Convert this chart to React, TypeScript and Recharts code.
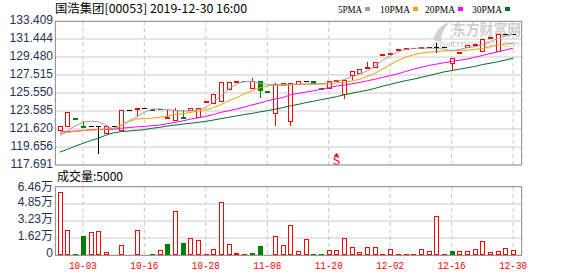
import React from 'react';
import { ComposedChart, Bar, Line, XAxis, YAxis, CartesianGrid, ReferenceDot } from 'recharts';

const dates = ['09-26','09-27','09-30','10-03','10-04','10-08','10-09','10-10','10-11','10-14','10-15','10-16','10-17','10-18','10-21','10-22','10-23','10-24','10-25','10-28','10-29','10-30','10-31','11-01','11-04','11-05','11-06','11-08','11-11','11-12','11-13','11-14','11-15','11-18','11-19','11-20','11-21','11-22','11-25','11-26','11-27','11-28','11-29','12-02','12-03','12-04','12-05','12-06','12-09','12-10','12-11','12-16','12-17','12-18','12-19','12-20','12-23','12-24','12-27','12-30'];

const opens = [121.56,122.0,122.87,121.98,121.92,121.92,121.13,121.92,121.55,123.73,123.88,123.95,123.77,123.77,122.85,122.65,122.97,123.73,122.93,124.63,124.45,124.67,126.01,126.88,126.88,126.1,126.88,125.8,123.37,126.4,122.5,126.5,126.88,126.91,126.12,126.05,126.99,125.47,127.53,127.75,128.36,128.4,129.81,129.92,130.35,130.42,130.42,130.53,130.53,130.53,130.53,128.79,130.06,130.6,130.9,130.09,131.55,130.17,131.98,131.98];
const highs = [121.95,123.44,122.87,122.5,121.92,121.92,121.92,121.92,123.73,123.73,123.95,123.95,123.77,123.77,123.73,123.95,123.73,123.95,123.95,124.63,125.47,126.77,126.77,126.88,126.88,127.15,126.88,125.8,126.6,126.66,126.62,126.88,126.88,126.91,126.12,126.88,126.99,126.99,127.99,128.18,128.95,128.97,129.81,129.92,130.35,130.42,130.42,130.53,130.53,130.97,130.53,129.33,130.06,130.82,130.9,131.44,131.69,131.98,131.98,131.98];
const lows = [121.56,121.95,122.87,121.92,121.92,119.03,121.13,121.92,121.5,123.73,123.01,123.95,123.77,123.77,122.85,122.65,122.93,123.73,122.93,124.63,124.45,124.67,126.01,126.88,126.88,126.1,125.1,125.8,122.03,126.4,122.03,126.5,126.88,126.62,126.12,126.05,126.99,124.99,127.05,127.75,128.36,128.4,129.81,129.92,130.35,130.42,130.42,130.53,130.53,129.99,130.53,128.07,130.06,130.6,130.9,130.09,131.55,130.17,131.98,131.98];
const closes = [121.92,123.44,122.87,121.92,121.92,121.92,121.92,121.92,123.73,123.73,123.95,123.95,123.77,123.77,122.95,123.73,122.93,123.95,123.95,124.63,125.47,126.77,126.77,126.88,126.88,126.85,125.83,125.8,126.56,126.6,126.62,126.88,126.88,126.62,126.12,126.88,126.99,126.99,127.99,128.18,128.4,128.97,129.81,129.92,130.35,130.42,130.42,130.53,130.53,130.53,130.53,129.33,130.06,130.82,130.9,131.44,131.69,131.98,131.98,131.98];
// volume in 万 (10k) shares
const volumes = [5.99,2.37,0.05,1.83,2.18,2.27,0.3,0,0.96,0,2.37,0,0.05,0.49,1.08,4.15,1.17,1.62,1.43,0.05,0.61,5.0,1.05,0.2,0.05,0.2,0.89,0,1.83,0.99,2.84,0.39,1.55,0.05,0.05,0.49,0.49,1.64,0.8,0.3,0.8,0.8,0.05,0.58,0.05,0.05,0.05,0.58,0.39,3.71,0.05,0.39,0.39,0.39,0.58,1.33,0.3,0.39,0.68,0.49];

const ma5 = [120.9,121.45,121.95,122.35,122.47,122.4,122.05,121.6,121.95,122.5,122.95,123.45,123.8,123.8,123.75,123.65,123.58,123.6,123.7,123.95,124.6,125.25,126.0,126.55,126.8,126.82,126.62,126.5,126.42,126.37,126.42,126.5,126.55,126.55,126.55,126.68,126.85,127.0,127.3,127.62,127.95,128.5,129.1,129.6,130.05,130.3,130.42,130.45,130.45,130.42,130.33,130.17,130.3,130.5,130.6,130.82,131.15,131.5,131.75,131.98];
const ma10 = [121.1,121.25,121.38,121.45,121.5,121.55,121.62,121.7,122.1,122.45,122.7,122.78,122.8,122.9,123.05,123.2,123.3,123.42,123.58,123.7,123.95,124.3,124.7,125.05,125.45,125.8,126.1,126.3,126.42,126.48,126.5,126.5,126.5,126.5,126.52,126.55,126.65,126.72,126.85,127.05,127.35,127.7,128.15,128.65,129.1,129.45,129.72,129.9,130.0,130.08,130.12,130.17,130.2,130.22,130.3,130.42,130.6,130.78,130.9,130.98];
const ma20 = [121.3,121.35,121.38,121.45,121.52,121.56,121.57,121.6,121.7,121.78,121.85,121.9,121.98,122.05,122.2,122.33,122.5,122.7,122.85,123.0,123.2,123.45,123.62,123.8,124.0,124.25,124.45,124.7,124.88,125.05,125.35,125.5,125.65,125.8,125.95,126.15,126.3,126.42,126.55,126.7,126.88,127.05,127.25,127.45,127.65,127.9,128.15,128.35,128.55,128.7,128.85,129.0,129.12,129.25,129.45,129.65,129.85,130.05,130.25,130.45];
const ma30 = [119.1,119.4,119.75,120.05,120.35,120.6,120.95,121.2,121.33,121.4,121.47,121.55,121.7,121.8,121.95,122.05,122.15,122.25,122.35,122.45,122.6,122.75,122.9,123.05,123.2,123.32,123.48,123.62,123.78,123.95,124.15,124.3,124.5,124.65,124.82,124.98,125.15,125.35,125.52,125.7,125.85,126.05,126.3,126.5,126.7,126.9,127.05,127.25,127.45,127.65,127.85,128.0,128.15,128.3,128.45,128.65,128.8,128.95,129.15,129.35];

const priceTicks = [117.691, 119.656, 121.620, 123.585, 125.550, 127.515, 129.480, 131.444, 133.409];
const volTicks = [0, 1.615, 3.23, 4.845, 6.46];
const volTickLabels = ['0', '1.62万', '3.23万', '4.85万', '6.46万'];
const dateTicks = ['10-03', '10-16', '10-28', '11-08', '11-20', '12-02', '12-16', '12-30'];
const signalDate = '11-21';
const signalPrice = 119.0;

const UP = '#ff0000';
const DOWN = '#008000';
const FLAT = '#000000';

const rows = dates.map((d, i) => ({
  date: d,
  open: opens[i],
  high: highs[i],
  low: lows[i],
  close: closes[i],
  prev: i > 0 ? closes[i - 1] : null,
  range: [lows[i], highs[i]],
  vol: volumes[i],
  ma5: ma5[i],
  ma10: ma10[i],
  ma20: ma20[i],
  ma30: ma30[i],
}));

function candleDir(p: any) {
  if (p.close > p.open) return 1;
  if (p.close < p.open) return -1;
  if (p.prev == null) return 0;
  return p.close > p.prev ? 1 : p.close < p.prev ? -1 : 0;
}
function volDir(p: any) {
  if (p.prev == null) return p.close >= p.open ? 1 : -1;
  return p.close >= p.prev ? 1 : -1;
}

const Candle = (props: any) => {
  const { x, y, width, height, payload } = props;
  if (x == null || y == null || !payload) return null;
  const cx = Math.round(x + width / 2);
  const { open, close, high, low } = payload;
  const span = high - low;
  const h = height || 0;
  const toY = (v: number) => (span > 0 ? y + ((high - v) / span) * h : y);
  const dir = candleDir(payload);
  const color = dir > 0 ? UP : dir < 0 ? DOWN : FLAT;
  const yh = Math.round(toY(high));
  const yl = Math.round(toY(low));
  const top = Math.round(Math.min(toY(open), toY(close)));
  const bot = Math.round(Math.max(toY(open), toY(close)));
  const els: any[] = [];
  if (yl > yh) {
    els.push(<line key="w" x1={cx + 0.5} x2={cx + 0.5} y1={yh} y2={yl + 1} stroke={color} strokeWidth={1} />);
  }
  if (close > open && bot - top >= 2) {
    els.push(<rect key="b" x={cx - 1.5} y={top + 0.5} width={4} height={bot - top} fill="#ffffff" stroke={color} strokeWidth={1} />);
  } else if (close < open && bot - top >= 2) {
    els.push(<rect key="b" x={cx - 2} y={top} width={5} height={bot - top + 1} fill={color} />);
  } else {
    const hh = dir === 0 ? 1 : 2;
    els.push(<rect key="b" x={cx - 2} y={top} width={5} height={hh} fill={color} />);
  }
  return <g>{els}</g>;
};

const VolBar = (props: any) => {
  const { x, y, width, height, payload } = props;
  if (x == null || y == null || !payload || !payload.vol) return null;
  const cx = Math.round(x + width / 2);
  const top = Math.round(y);
  const bot = Math.round(y + height);
  const dir = volDir(payload);
  const color = dir > 0 ? UP : DOWN;
  if (dir < 0 || bot - top <= 2) {
    return <rect x={cx - 2} y={Math.min(top, bot - 1)} width={5} height={Math.max(bot - top, 1)} fill={color} />;
  }
  return <rect x={cx - 1.5} y={top + 0.5} width={4} height={bot - top - 1} fill="#ffffff" stroke={color} strokeWidth={1} />;
};

const PriceTick = (props: any) => {
  const { x, y, payload } = props;
  return (
    <text x={x} y={y + 3} textAnchor="end" fontSize={12} fontFamily="'Liberation Sans', Arial, sans-serif" fill="#243457">
      {Number(payload.value).toFixed(3)}
    </text>
  );
};

const VolTick = (props: any) => {
  const { x, y, payload, index } = props;
  const i = volTicks.indexOf(payload.value);
  return (
    <text x={x} y={y + (i === volTicks.length - 1 ? 4 : 2)} textAnchor="end" fontSize={12} fontFamily="'Liberation Sans', 'Noto Sans CJK SC', sans-serif" fill="#243457">
      {volTickLabels[i >= 0 ? i : index]}
    </text>
  );
};

const DateTick = (props: any) => {
  const { x, y, payload } = props;
  return (
    <text x={x} y={y + 14} textAnchor="middle" fontSize={11} fontFamily="'Liberation Mono', monospace" fill="#ff0000" textLength={28} lengthAdjust="spacingAndGlyphs">
      {payload.value}
    </text>
  );
};

const SignalMark = (props: any) => {
  const { cx, cy } = props;
  if (cx == null || cy == null) return null;
  const c = Math.round(cx) + 0.5;
  const t = Math.round(cy);
  return (
    <g>
      <path d={`M${c - 2.5},${t + 3} L${c},${t} L${c + 2.5},${t + 3} Z`} fill="#ff0000" />
      <line x1={c} x2={c} y1={t + 2} y2={t + 4} stroke="#ff0000" />
      <text x={c} y={t + 12} textAnchor="middle" fontSize={12} fontFamily="'Liberation Mono', monospace" fill="#ff0000">S</text>
    </g>
  );
};

const legendItems = [
  { label: '5PMA', color: '#a0a0a0', x: 338 },
  { label: '10PMA', color: '#f0a000', x: 380 },
  { label: '20PMA', color: '#ff00ff', x: 425 },
  { label: '30PMA', color: '#00702a', x: 472 },
];

export default function App() {
  return (
    <div style={{ position: 'absolute', left: 0, top: 0, width: 578, height: 276, background: '#ffffff', overflow: 'hidden' }}>
      <svg width={578} height={276} style={{ position: 'absolute', left: 0, top: 0 }}>
        <path d="M433,40 C436,30 442,24 450,22 C444,28 441,34 441,42 Z" fill="#d0d0d0" />
        <text x={452} y={35} fontSize={15} fontWeight="bold" fontFamily="'Noto Sans CJK SC', sans-serif" fill="#cfcfcf" textLength={69} lengthAdjust="spacingAndGlyphs">东方财富网</text>
        <text x={432} y={47} fontSize={8} fontFamily="'DejaVu Sans', sans-serif" fill="#d0d0d0" textLength={88} lengthAdjust="spacingAndGlyphs">eastmoney.com</text>
      </svg>
      <div style={{ position: 'absolute', left: 0, top: 0 }}>
        <ComposedChart width={578} height={174} data={rows} margin={{ top: 21, right: 56, bottom: 9, left: 0 }}>
          <CartesianGrid stroke="#cccccc" horizontal={true} vertical={false} />
          <XAxis dataKey="date" hide ticks={dateTicks} interval={0} padding={{ left: 1, right: 5 }} />
          <YAxis type="number" domain={[117.691, 133.409]} ticks={priceTicks} interval={0} width={55} tickLine={false} axisLine={false} tickSize={0} tickMargin={2} tick={<PriceTick />} allowDataOverflow />
          <CartesianGrid stroke="#c8c8c8" strokeDasharray="4 3" horizontal={false} vertical={true} />
          <Line dataKey="ma30" stroke="#00702a" strokeWidth={1} dot={false} isAnimationActive={false} />
          <Line dataKey="ma20" stroke="#ff00ff" strokeWidth={1} dot={false} isAnimationActive={false} />
          <Line dataKey="ma10" stroke="#f0a000" strokeWidth={1} dot={false} isAnimationActive={false} />
          <Line dataKey="ma5" stroke="#a0a0a0" strokeWidth={1} dot={false} isAnimationActive={false} />
          <Bar dataKey="range" shape={<Candle />} isAnimationActive={false} />
          <ReferenceDot x={signalDate} y={signalPrice} shape={<SignalMark />} ifOverflow="visible" />
        </ComposedChart>
      </div>
      <div style={{ position: 'absolute', left: 0, top: 165 }}>
        <ComposedChart width={578} height={111} data={rows} margin={{ top: 22, right: 56, bottom: 0, left: 0 }}>
          <CartesianGrid stroke="#cccccc" horizontal={true} vertical={false} />
          <CartesianGrid stroke="#c8c8c8" strokeDasharray="4 3" horizontal={false} vertical={true} />
          <XAxis dataKey="date" ticks={dateTicks} interval={0} padding={{ left: 1, right: 5 }} height={21} tickLine={false} axisLine={false} tickSize={0} tickMargin={0} tick={<DateTick />} />
          <YAxis type="number" domain={[0, 6.46]} ticks={volTicks} interval={0} width={55} tickLine={false} axisLine={false} tickSize={0} tickMargin={2} tick={<VolTick />} allowDataOverflow />
          <Bar dataKey="vol" shape={<VolBar />} isAnimationActive={false} />
        </ComposedChart>
      </div>
      <svg width={578} height={276} style={{ position: 'absolute', left: 0, top: 0, pointerEvents: 'none' }}>
        <rect x={55.5} y={21.5} width={466} height={143.5} fill="none" stroke="#999999" />
        <rect x={55.5} y={186.5} width={466} height={69} fill="none" stroke="#999999" />
        <text x={55} y={13} fontSize={12} fontFamily="'Noto Sans CJK SC', sans-serif" fill="#000000" textLength={192} lengthAdjust="spacingAndGlyphs">国浩集团[00053] 2019-12-30 16:00</text>
        {legendItems.map((it) => (
          <g key={it.label}>
            <text x={it.x} y={13} fontSize={11} fontFamily="'Liberation Serif', serif" fill="#000000" textLength={it.label.length * 6} lengthAdjust="spacingAndGlyphs">{it.label}</text>
            <rect x={it.x + it.label.length * 6 + 3} y={7} width={5} height={4} fill={it.color} />
          </g>
        ))}
        <text x={57} y={181} fontSize={12} fontFamily="'Noto Sans CJK SC', sans-serif" fill="#000000">成交量:5000</text>
      </svg>
    </div>
  );
}
